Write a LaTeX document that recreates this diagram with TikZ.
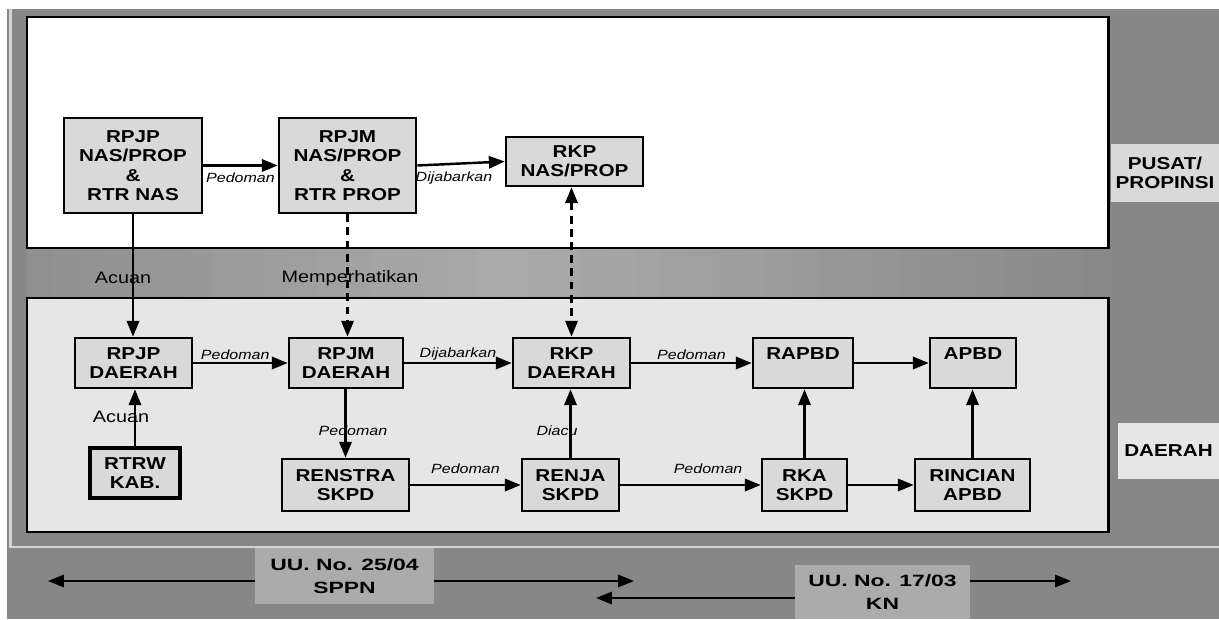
\documentclass[tikz,border=0pt]{standalone}
\usepackage{fontspec}
\setmainfont[FakeStretch=1.2]{Liberation Sans}
\newfontfamily\widefont[FakeStretch=1.4]{Liberation Sans}
\usetikzlibrary{arrows.meta}

\definecolor{bggray}{HTML}{878787}
\definecolor{boxgray}{HTML}{D9D9D9}
\definecolor{panelgray}{HTML}{E6E6E6}
\definecolor{lawgray}{HTML}{ABABAB}
\definecolor{rimgray}{HTML}{D2D2D2}

\tikzset{
  planbox/.style={draw, line width=1.5pt, fill=boxgray, align=center, inner sep=0pt,
    font=\fontsize{9.8}{11}\selectfont\bfseries},
  levelbox/.style={fill=boxgray, align=center, inner sep=0pt,
    font=\fontsize{9.8}{11}\selectfont\bfseries},
  lawbox/.style={fill=lawgray, align=center, inner sep=0pt,
    font=\widefont\fontsize{9.3}{13}\selectfont\bfseries},
  conn/.style={line width=1.4pt, ->},
  dashconn/.style={conn, dash pattern=on 4.5pt off 3pt},
  lawline/.style={line width=1.1pt, ->},
  lbl/.style={font=\fontsize{7.6}{9}\selectfont\itshape, inner sep=1pt},
  note/.style={font=\fontsize{9.4}{11}\selectfont, inner sep=0pt},
}

\begin{document}
\begin{tikzpicture}[x=0.02cm, y=-0.02cm, >={Triangle[length=9pt,width=7pt]}]
\useasboundingbox (0,0) rectangle (1219,619);
% background and panels
\fill[white] (0,0) rectangle (1219,619);
\fill[bggray] (7,9) rectangle (1219,619);
% lighter band between the panels
\foreach \i in {0,...,40} {
  \pgfmathsetmacro\xa{27+\i*26.4}
  \pgfmathsetmacro\p{\xa<500 ? 92.5-(\xa-27)/473*22.5 : 70+(\xa-500)/609*30}
  \fill[bggray!\p!white] (\xa,248) rectangle (\xa+27,298);
}
\draw[rimgray, line width=1.2pt] (10.5,9) -- (10.5,547) -- (1219,547);
\draw[fill=white, line width=1.1pt] (27,17) rectangle (1109,248);
\draw[line width=2.2pt] (1108.5,17) -- (1108.5,248);
\draw[fill=panelgray, line width=1.1pt] (27,298) rectangle (1109,532);
\draw[line width=2.2pt] (1108.5,298) -- (1108.5,532);

% level labels
\node[levelbox, minimum width=2.16cm, minimum height=1.16cm] (pusat) at (1165,173) {PUSAT/\\PROPINSI};
\node[levelbox, fill=panelgray, minimum width=2.02cm, minimum height=1.12cm] (daerah) at (1168.5,451) {DAERAH};

% pusat / propinsi
\node[planbox, minimum width=2.76cm, minimum height=1.9cm] (rpjpnas) at (133,165.5) {RPJP\\NAS/PROP\\\&\\RTR NAS};
\node[planbox, minimum width=2.74cm, minimum height=1.9cm] (rpjmnas) at (347.5,165.5) {RPJM\\NAS/PROP\\\&\\RTR PROP};
\node[planbox, minimum width=2.74cm, minimum height=0.98cm] (rkpnas) at (574.5,161.5) {RKP\\NAS/PROP};

% daerah
\node[planbox, minimum width=2.34cm, minimum height=1cm] (rpjpd) at (133.5,363) {RPJP\\DAERAH};
\node[planbox, minimum width=2.28cm, minimum height=1cm] (rpjmd) at (346,363) {RPJM\\DAERAH};
\node[planbox, minimum width=2.34cm, minimum height=1cm] (rkpd) at (571.5,363) {RKP\\DAERAH};
\node[planbox, minimum width=2cm, minimum height=1cm] (rapbd) at (803,363) {RAPBD\\\mbox{}};
\node[planbox, minimum width=1.72cm, minimum height=1cm] (apbd) at (973,363) {APBD\\\mbox{}};
\node[planbox, line width=2pt, minimum width=1.8cm, minimum height=1cm] (rtrw) at (135,473) {RTRW\\KAB.};
\node[planbox, minimum width=2.54cm, minimum height=1.04cm] (renstra) at (345.5,485) {RENSTRA\\SKPD};
\node[planbox, minimum width=1.94cm, minimum height=1.04cm] (renja) at (570.5,485) {RENJA\\SKPD};
\node[planbox, minimum width=1.7cm, minimum height=1.04cm] (rka) at (804.5,485) {RKA\\SKPD};
\node[planbox, minimum width=2.3cm, minimum height=1.04cm] (rincian) at (972.5,485) {RINCIAN\\APBD};

% connectors
\draw[conn] (rpjpnas) -- (rpjmnas) node[lbl, midway, below=2.5pt] (l1) {Pedoman};
\draw[conn] (rpjmnas.east) -- (rkpnas.west) node[lbl, midway, below=3pt, xshift=-4pt] (l2) {Dijabarkan};
\draw[conn] (rpjpnas) -- (rpjpnas |- rpjpd.north);
\draw[dashconn] (rpjmnas.south) -- (rpjmnas.south |- rpjmd.north);
\draw[dashconn, <->] (rkpnas.south -| rkpd.north) -- (rkpd.north);
\node[note] (acuan1) at (123,278) {Acuan};
\node[note] (perhati) at (350,278) {Memperhatikan};

\draw[conn] (rpjpd) -- (rpjmd) node[lbl, midway, above=0pt, xshift=-3pt] (l3) {Pedoman};
\draw[conn] (rpjmd) -- (rkpd) node[lbl, midway, above=0pt] (l4) {Dijabarkan};
\draw[conn] (rkpd) -- (rapbd) node[lbl, midway, above=0pt] (l5) {Pedoman};
\draw[conn] (rapbd) -- (apbd);
\draw[conn] (rtrw) -- (rtrw |- rpjpd.south);
\node[note] (acuan2) at (121,417) {Acuan};
\draw[conn] (rpjmd.south -| renstra.north) -- (renstra.north);
\node[lbl] (l6) at (353,431) {Pedoman};
\draw[conn] (renstra) -- (renja) node[lbl, midway, above=5pt] (l7) {Pedoman};
\draw[conn] (renja) -- (renja |- rkpd.south);
\node[lbl] (l8) at (557,431) {Diacu};
\draw[conn] (renja) -- (rka) node[lbl, midway, above=5pt, xshift=10pt] (l9) {Pedoman};
\draw[conn] (rka) -- (rka |- rapbd.south);
\draw[conn] (rka) -- (rincian);
\draw[conn] (rincian) -- (rincian |- apbd.south);

% laws
\node[lawbox, minimum width=3.58cm, minimum height=1.12cm] (sppn) at (344.5,576) {UU. No. 25/04\\SPPN};
\node[lawbox, minimum width=3.5cm, minimum height=1.08cm] (kn) at (882.5,592) {UU. No. 17/03\\KN};
\coordinate (sppnleft) at (48,581);
\coordinate (sppnright) at (634,581);
\coordinate (knleft) at (596,598);
\coordinate (knright) at (1071,581);
\draw[lawline] (sppn.west |- sppnleft) -- (sppnleft);
\draw[lawline] (sppn.east |- sppnright) -- (sppnright);
\draw[lawline] (kn.west |- knleft) -- (knleft);
\draw[lawline] (kn.east |- knright) -- (knright);
\end{tikzpicture}
\end{document}
